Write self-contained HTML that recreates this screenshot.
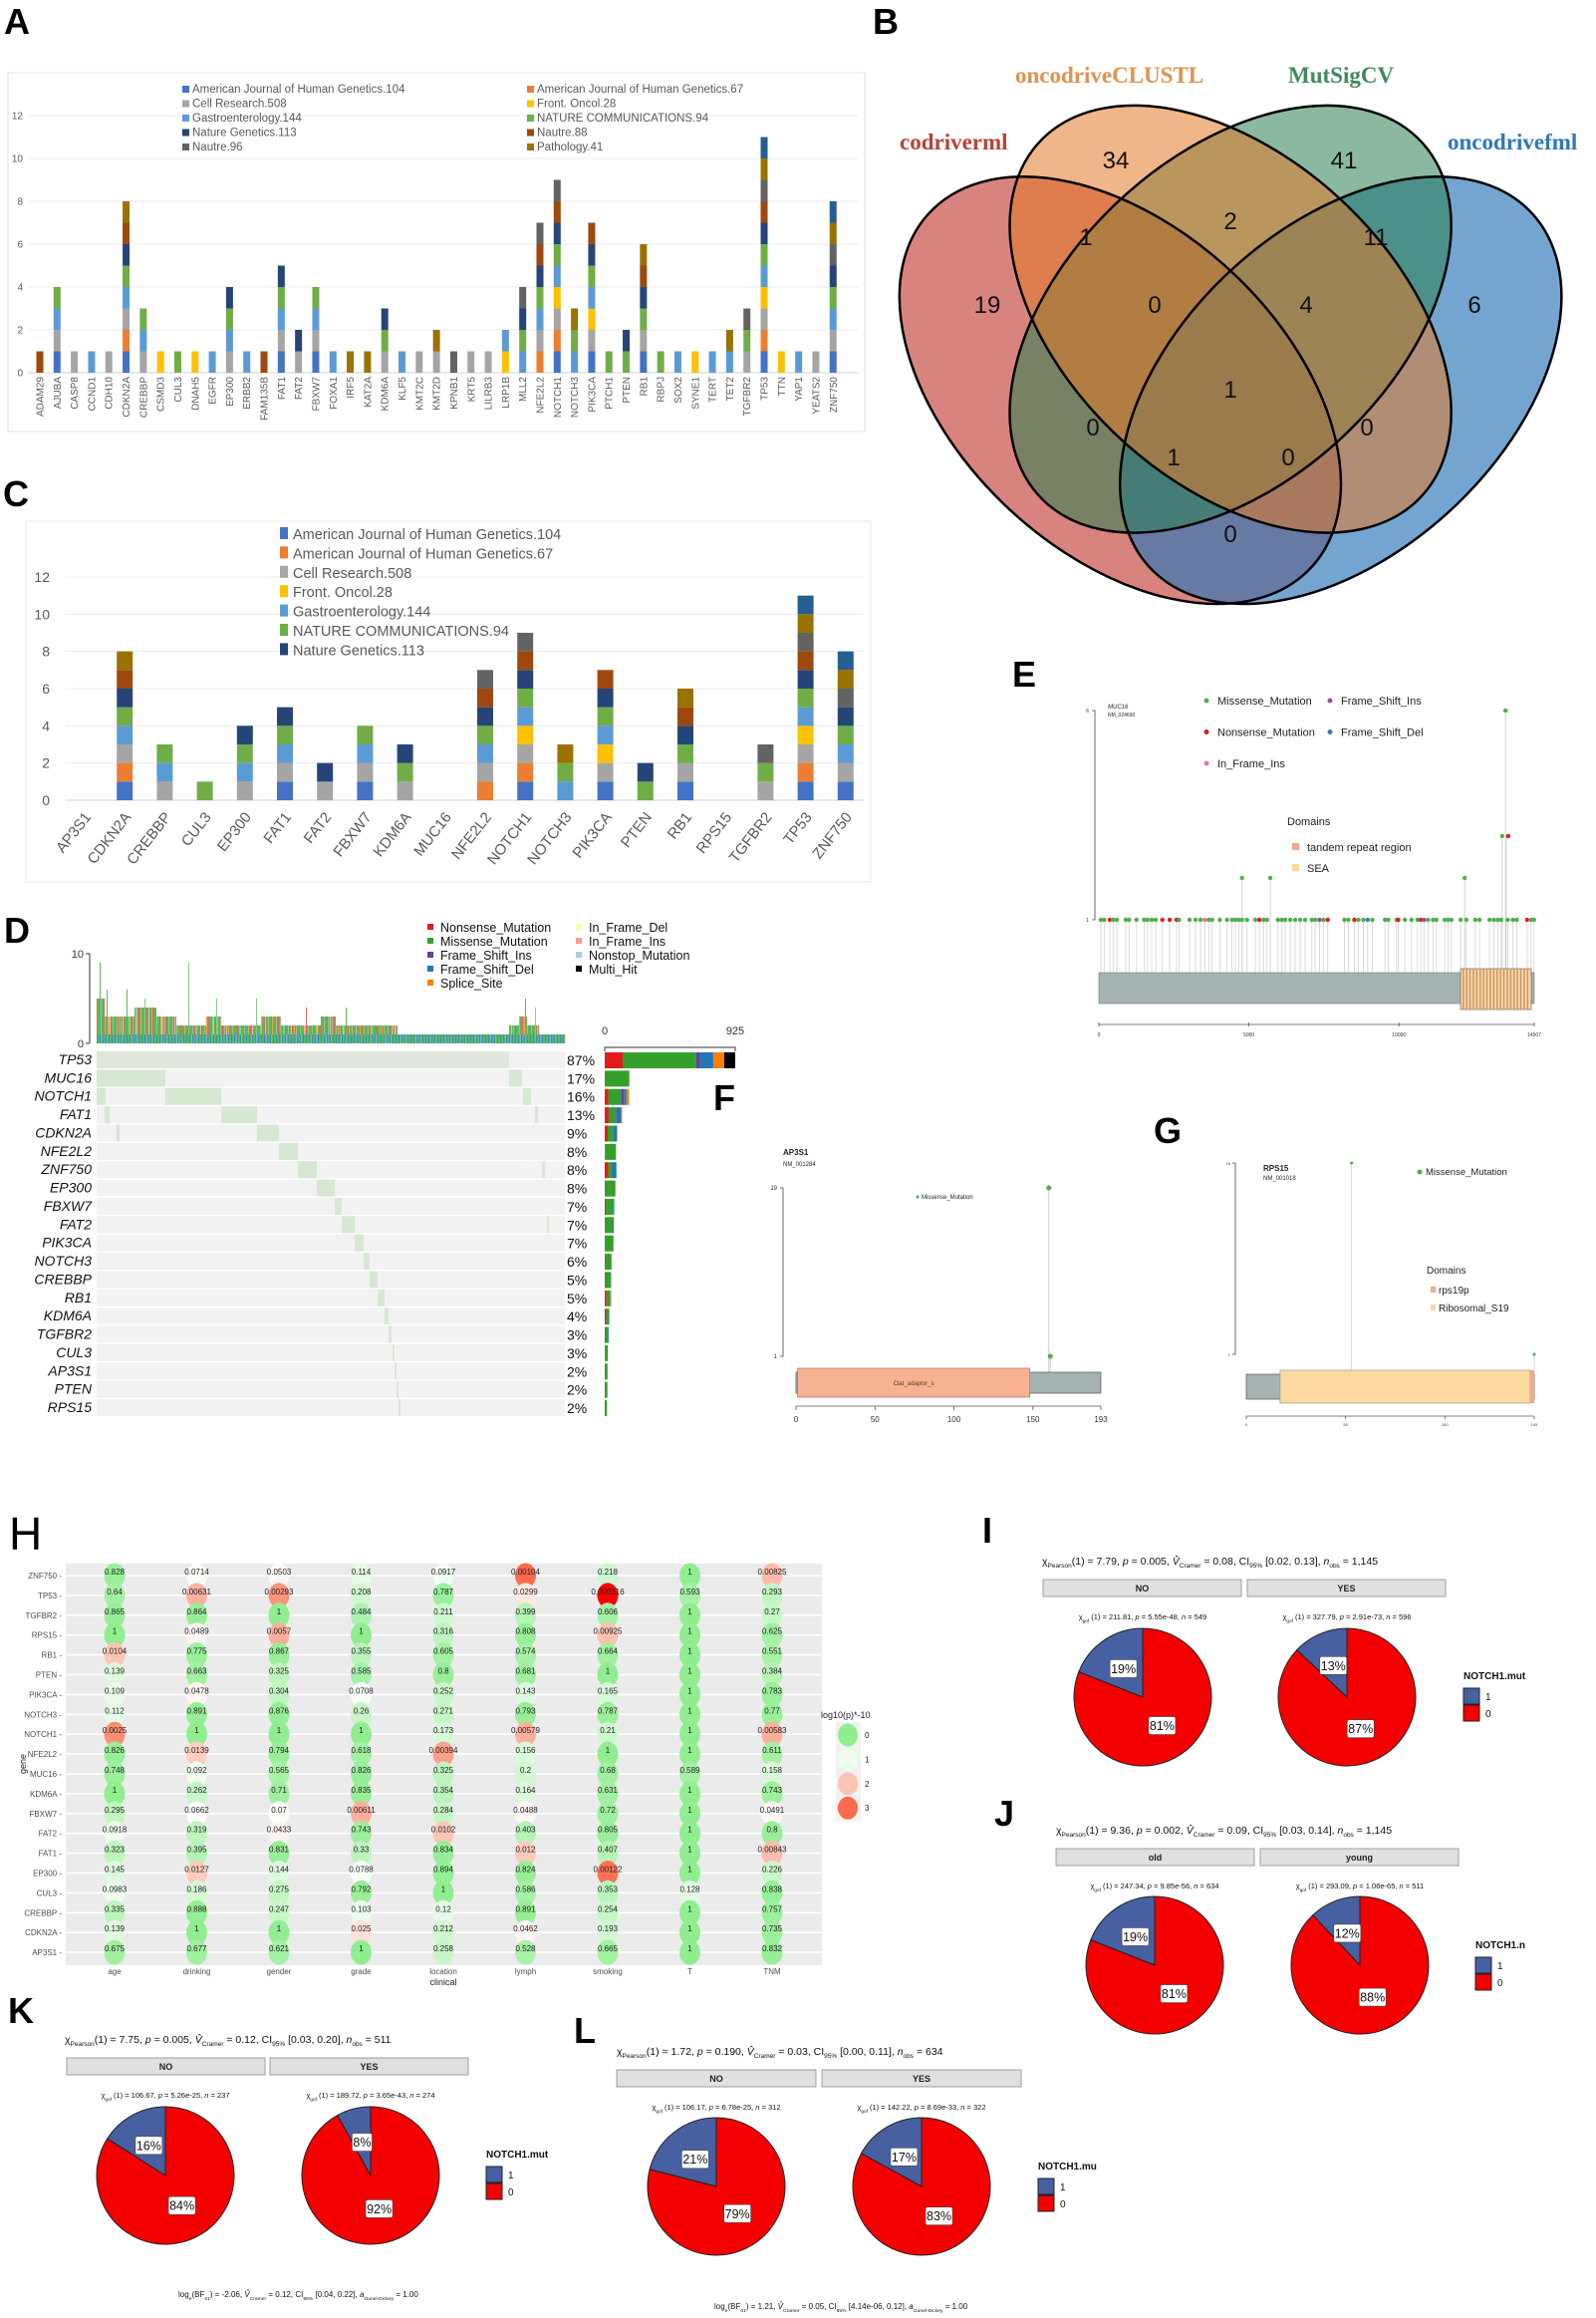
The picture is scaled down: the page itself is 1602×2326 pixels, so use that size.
<!DOCTYPE html>
<html><head><meta charset="utf-8"><title>Figure</title>
<style>
html,body{margin:0;padding:0;background:#fff;}
svg{display:block;font-family:"Liberation Sans",sans-serif;}
.n{font-family:"Liberation Sans Narrow","Liberation Sans",sans-serif;}
.lab{font-weight:bold;font-size:36px;fill:#000;}
</style></head>
<body>
<svg id="fig" xmlns="http://www.w3.org/2000/svg" width="1602" height="2326" viewBox="0 0 1602 2326">
<rect x="0" y="0" width="1602" height="2326" fill="#fff"/>
<text class="lab" x="4" y="34">A</text>
<text class="lab" x="876" y="34">B</text>
<text class="lab" x="3" y="508">C</text>
<text class="lab" x="4" y="946" font-size="32">D</text>
<text class="lab" x="1016" y="689">E</text>
<text class="lab" x="716" y="1114">F</text>
<text class="lab" x="1158" y="1147">G</text>
<text x="9" y="1555" font-size="46">H</text>
<text class="lab" x="986" y="1548" font-size="30">I</text>
<text class="lab" x="998" y="1832" font-size="34">J</text>
<text class="lab" x="8" y="2030" font-size="34">K</text>
<text class="lab" x="576" y="2050" font-size="34">L</text>

<!-- Venn B -->
<g>
<g transform="translate(866.1,727.2) scale(738,-714)">
<ellipse cx="0.35" cy="0.47" rx="0.36" ry="0.225" transform="rotate(135 0.35 0.47)" fill="#c0302a" fill-opacity="0.6" stroke="none"/>
<ellipse cx="0.65" cy="0.47" rx="0.36" ry="0.225" transform="rotate(45 0.65 0.47)" fill="#2a74b8" fill-opacity="0.65" stroke="none"/>
<ellipse cx="0.5" cy="0.57" rx="0.36" ry="0.225" transform="rotate(45 0.5 0.57)" fill="#2a8050" fill-opacity="0.55" stroke="none"/>
<ellipse cx="0.5" cy="0.57" rx="0.36" ry="0.225" transform="rotate(135 0.5 0.57)" fill="#e27a28" fill-opacity="0.55" stroke="none"/>
<g fill="none" stroke="#000" stroke-width="2.5">
<ellipse cx="0.35" cy="0.47" rx="0.36" ry="0.225" transform="rotate(135 0.35 0.47)" vector-effect="non-scaling-stroke"/>
<ellipse cx="0.65" cy="0.47" rx="0.36" ry="0.225" transform="rotate(45 0.65 0.47)" vector-effect="non-scaling-stroke"/>
<ellipse cx="0.5" cy="0.57" rx="0.36" ry="0.225" transform="rotate(45 0.5 0.57)" vector-effect="non-scaling-stroke"/>
<ellipse cx="0.5" cy="0.57" rx="0.36" ry="0.225" transform="rotate(135 0.5 0.57)" vector-effect="non-scaling-stroke"/>
</g>
</g>
<g font-family="Liberation Serif,serif" font-weight="bold" font-size="23">
<text x="903" y="150" fill="#b8413b">codriverml</text>
<text x="1019" y="83" fill="#e0924f">oncodriveCLUSTL</text>
<text x="1293" y="83" fill="#3f8a5c">MutSigCV</text>
<text x="1453" y="150" fill="#2f78b7">oncodrivefml</text>
</g>
<g id="vennNums" font-size="24" text-anchor="middle" fill="#111"></g>
</g>

<!-- E static -->
<g font-size="11" fill="#222">
<text x="1112" y="711" font-size="6" font-style="italic">MUC16</text>
<text x="1112" y="719" font-size="5">NM_024690</text>
<text x="1292" y="828">Domains</text>
<rect x="1297" y="846" width="7" height="7" fill="#f4a987"/>
<text x="1312" y="854">tandem repeat region</text>
<rect x="1297" y="867" width="7" height="7" fill="#fcd9a0"/>
<text x="1312" y="875">SEA</text>
</g>
<!-- F static -->
<g fill="#222">
<text x="786" y="1159" font-size="8" font-weight="bold">AP3S1</text>
<text x="786" y="1170" font-size="6">NM_001284</text>
<circle cx="921" cy="1201" r="1.5" fill="#4daf4a"/>
<text x="925" y="1203" font-size="6" class="n">Missense_Mutation</text>
</g>
<!-- G static -->
<g fill="#222">
<text x="1268" y="1175" font-size="8" font-weight="bold">RPS15</text>
<text x="1268" y="1184" font-size="6">NM_001018</text>
<circle cx="1425" cy="1176" r="2.5" fill="#4daf4a"/>
<text x="1431" y="1179" font-size="9.5" class="n">Missense_Mutation</text>
<text x="1432" y="1278" font-size="10" class="n">Domains</text>
<rect x="1436" y="1291" width="5" height="6" fill="#f4a987"/>
<text x="1444" y="1298" font-size="10" class="n">rps19p</text>
<rect x="1436" y="1309" width="5" height="6" fill="#fcd9a0"/>
<text x="1444" y="1316" font-size="10" class="n">Ribosomal_S19</text>
</g>
<g id="dyn"></g>
</svg>
<script>
const NS='http://www.w3.org/2000/svg';
const root=document.getElementById('dyn');
function mk(tag,attrs,parent){const e=document.createElementNS(NS,tag);for(const k in attrs)e.setAttribute(k,attrs[k]);(parent||root).appendChild(e);return e;}

/* ---------- shared series ---------- */
const seriesNames=['American Journal of Human Genetics.104','American Journal of Human Genetics.67','Cell Research.508','Front. Oncol.28','Gastroenterology.144','NATURE COMMUNICATIONS.94','Nature Genetics.113','Nautre.88','Nautre.96','Pathology.41','Other'];
const seriesColors=['#4472c4','#ed7d31','#a5a5a5','#ffc000','#5b9bd5','#70ad47','#264478','#9e480e','#636363','#997300','#255e91'];

/* ---------- Panel A data ---------- */
const aGenes=['ADAM29','AJUBA','CASP8','CCND1','CDH10','CDKN2A','CREBBP','CSMD3','CUL3','DNAH5','EGFR','EP300','ERBB2','FAM135B','FAT1','FAT2','FBXW7','FOXA1','IRF5','KAT2A','KDM6A','KLF5','KMT2C','KMT2D','KPNB1','KRT5','LILRB3','LRP1B','MLL2','NFE2L2','NOTCH1','NOTCH3','PIK3CA','PTCH1','PTEN','RB1','RBPJ','SOX2','SYNE1','TERT','TET2','TGFBR2','TP53','TTN','YAP1','YEATS2','ZNF750'];
const aSeries=[[7],[0,2,4,5],[2],[4],[2],[0,1,2,4,5,6,7,9],[2,4,5],[3],[5],[3],[4],[2,4,5,6],[4],[7],[0,2,4,5,6],[2,6],[0,2,4,5],[4],[9],[9],[2,5,6],[4],[2],[2,9],[8],[2],[2],[3,4],[4,5,6,8],[1,2,4,5,6,7,8],[0,1,2,3,4,5,6,7,8],[4,5,9],[0,2,3,4,5,6,7],[5],[5,6],[0,2,5,6,7,9],[5],[4],[3],[4],[4,9],[2,5,8],[0,1,2,3,4,5,6,7,8,9,10],[3],[4],[2],[0,2,4,5,6,8,9,10]];
const aTicks=[0,2,4,6,8,10,12];
const xA=i=>40+i*17.31, yA=v=>374-v*21.5;
{
 const g=mk('g',{});
 
 
 const box=mk('rect',{x:8,y:73,width:860,height:360,fill:'none',stroke:'#e3e3e3'},g);
 
 
 aTicks.forEach(t=>{
  const l=mk('line',{x1:28,x2:862,y1:yA(t),y2:yA(t),stroke:t===0?'#d0d0d0':'#ececec'},g);
  
  
  const tx=mk('text',{x:23,y:yA(t)+3.5,'font-size':10,'text-anchor':'end',fill:'#595959',class:'n'},g);
  tx.textContent=t;
  
  
 });
 aGenes.forEach((gn,i)=>{
  aSeries[i].forEach((s,k)=>{
   const r=mk('rect',{x:xA(i)-3.5,y:yA(k+1),width:7,height:yA(k)-yA(k+1),fill:seriesColors[s]},g);
   
   
  });
  const tx=mk('text',{x:0,y:0,'font-size':10,'text-anchor':'end',fill:'#595959',transform:`translate(${xA(i)+3.5},378) rotate(-90)`},g);
  tx.textContent=gn;
  
  
 });
 for(let i=0;i<10;i++){
  const cx=i%2===0?183:529, cy=92+Math.floor(i/2)*14.5;
  const sq=mk('rect',{x:cx,y:cy-6,width:7,height:7,fill:seriesColors[i]},g);
  
  
  const tx=mk('text',{x:cx+10,y:cy+1,'font-size':11.5,fill:'#595959',class:'n'},g);
  tx.textContent=seriesNames[i];
  
  
 }
}

/* ---------- Panel C data ---------- */
const cGenes=['AP3S1','CDKN2A','CREBBP','CUL3','EP300','FAT1','FAT2','FBXW7','KDM6A','MUC16','NFE2L2','NOTCH1','NOTCH3','PIK3CA','PTEN','RB1','RPS15','TGFBR2','TP53','ZNF750'];
const cSeries=[[],[0,1,2,4,5,6,7,9],[2,4,5],[5],[2,4,5,6],[0,2,4,5,6],[2,6],[0,2,4,5],[2,5,6],[],[1,2,4,5,6,7,8],[0,1,2,3,4,5,6,7,8],[4,5,9],[0,2,3,4,5,6,7],[5,6],[0,2,5,6,7,9],[],[2,5,8],[0,1,2,3,4,5,6,7,8,9,10],[0,2,4,5,6,8,9,10]];
const cTicks=[0,2,4,6,8,10,12];
const xC=i=>85+i*40.2, yC=v=>803-v*18.67;
{
 const g=mk('g',{});
 
 
 const box=mk('rect',{x:26,y:523,width:848,height:362,fill:'none',stroke:'#e8e8e8'},g);
 
 
 cTicks.forEach(t=>{
  const l=mk('line',{x1:66,x2:867,y1:yC(t),y2:yC(t),stroke:t===0?'#d0d0d0':'#ececec'},g);
  
  
  const tx=mk('text',{x:50,y:yC(t)+5,'font-size':14,'text-anchor':'end',fill:'#595959',class:'n'},g);
  tx.textContent=t;
  
  
 });
 cGenes.forEach((gn,i)=>{
  cSeries[i].forEach((s,k)=>{
   const r=mk('rect',{x:xC(i)-8,y:yC(k+1),width:16,height:yC(k)-yC(k+1),fill:seriesColors[s]},g);
   
   
  });
  const tx=mk('text',{x:0,y:0,'font-size':15,'text-anchor':'end',fill:'#595959',transform:`translate(${xC(i)+7},820) rotate(-52)`},g);
  tx.textContent=gn;
  
  
 });
 for(let i=0;i<7;i++){
  const cy=537+i*19.4;
  const sq=mk('rect',{x:281,y:cy-8,width:8,height:12,fill:seriesColors[i]},g);
  
  
  const tx=mk('text',{x:294,y:cy+4,'font-size':14.5,fill:'#595959',class:'n'},g);
  tx.textContent=seriesNames[i];
  
  
 }
}

/* ---------- Panel B numbers ---------- */
const vennCounts=['34','41','19','1','2','11','6','0','4','1','0','0','1','0','0'];
const vennPosX=[1120,1349,991,1090,1235,1381,1480,1159,1311,1235,1097,1372,1178,1293,1235];
const vennPosY=[160,160,305,237,221,237,305,305,305,390,428,428,458,458,535];
{
 const g=document.getElementById('vennNums');
 vennCounts.forEach((c,i)=>{
  const t=mk('text',{x:vennPosX[i],y:vennPosY[i]+9},g);
  t.textContent=c;
  
  
 });
}

/* ---------- Panel D data ---------- */
const dGenes=['TP53','MUC16','NOTCH1','FAT1','CDKN2A','NFE2L2','ZNF750','EP300','FBXW7','FAT2','PIK3CA','NOTCH3','CREBBP','RB1','KDM6A','TGFBR2','CUL3','AP3S1','PTEN','RPS15'];
const dPct=['87%','17%','16%','13%','9%','8%','8%','8%','7%','7%','7%','6%','5%','5%','4%','3%','3%','2%','2%','2%'];
const dBlockStart=[0,0,69,125,161,183,202,221,239,246,259,268,274,282,289,293,297,299,301,303];
const dBlockLen=[414,69,56,36,22,19,19,18,7,13,9,6,8,7,4,3,2,2,2,2];
const dExtraGene=[1,2,2,3,3,4,6,9];
const dExtraStart=[414,0,428,8,440,20,447,452];
const dExtraLen=[13,9,8,5,3,3,3,2];
const dTypes=['Nonsense_Mutation','Missense_Mutation','Frame_Shift_Ins','Frame_Shift_Del','Splice_Site','In_Frame_Del','In_Frame_Ins','Nonstop_Mutation','Multi_Hit'];
const dTypeColors=['#e31a1c','#33a02c','#6a3d9a','#1f78b4','#ff7f00','#ffff99','#fb9a99','#a6cee3','#000000'];
const dNonsense=[127,3,25,28,21,2,25,3,8,5,0,6,6,12,10,4,2,0,4,0];
const dMissense=[522,170,90,50,40,78,28,70,57,52,62,40,38,26,20,18,20,20,15,16];
const dFsIns=[28,0,21,5,0,0,0,0,0,0,0,0,0,0,0,0,0,0,0,0];
const dFsDel=[92,0,18,35,25,0,30,0,3,8,0,2,2,3,3,6,0,0,0,0];
const dSplice=[78,2,18,5,4,0,0,5,0,0,0,2,0,5,0,0,0,0,0,0];
const dMulti=[78,0,0,0,0,0,0,0,0,0,0,0,0,0,0,0,0,0,0,0];
const tmbRuns=[[8,5],[30,3],[22,4],[20,3],[30,2],[15,3],[40,2],[20,3],[40,2],[15,3],[62,2],[112,1],[10,2],[8,3],[12,2],[26,1]];
const tmbSpikeIdx=[3,10,30,48,92,120,160,210,250,430,440];
const tmbSpikeVal=[9,6,6,5,9,5,5,4,4,5,4];
const tmbTicks=[0,10];
const rightTicks=[0,925];
const xS=s=>97+s, rowTop=i=>1055+i*18.37, yT=v=>1047-v*9, xR=c=>607+c*131/925;
{
 const g=mk('g',{});
 
 
 dTypes.forEach((t,i)=>{
  const col=i<5?0:1, row=i<5?i:i-5;
  const x=col?578:429, y=934+row*14;
  const sq=mk('rect',{x:x,y:y-7,width:6,height:6,fill:dTypeColors[i]},g);
  
  
  const tx=mk('text',{x:x+13,y:y+1,'font-size':12.5,fill:'#111'},g);
  tx.textContent=t;
  
  
 });
 const ax=mk('line',{x1:90,x2:90,y1:yT(10),y2:yT(0),stroke:'#333'},g);
 
 
 tmbTicks.forEach(t=>{
  const tk=mk('line',{x1:86,x2:90,y1:yT(t),y2:yT(t),stroke:'#333'},g);
  
  
  const tx=mk('text',{x:84,y:yT(t)+4,'font-size':11,'text-anchor':'end',fill:'#333',class:'n'},g);
  tx.textContent=t;
  
  
 });
 const heights=[];
 tmbRuns.forEach(r=>{for(let k=0;k<r[0];k++)heights.push(r[1]);});
 tmbSpikeIdx.forEach((s,i)=>{heights[s]=tmbSpikeVal[i];});
 heights.forEach((h,s)=>{
  for(let u=0;u<h;u++){
   let c='#5cb85c';
   if(u===0) c=(s%3===0)?'#3b8fc4':(s%5===0?'#7fb0d8':'#5cb85c');
   else if(s%7===0) c='#e8615f'; else if(s%11===0) c='#f5a04a'; else if(s%13===0) c='#f3b2b0'; else if(s%4===0) c='#8cc98a';
   const r=mk('rect',{x:xS(s),y:yT(u+1),width:1,height:9,fill:c},g);
   
   
  }
 });
 dGenes.forEach((gn,i)=>{
  const y=rowTop(i);
  const bg=mk('rect',{x:97,y:y,width:470,height:17,fill:'#f2f2f2'},g);
  
  
  const bl=mk('rect',{x:xS(dBlockStart[i]),y:y,width:dBlockLen[i],height:17,fill:i===0?'#e1e6dc':'#d6e8d2'},g);
  
  
  const lab=mk('text',{x:92,y:y+13,'font-size':14,'font-style':'italic','text-anchor':'end',fill:'#111'},g);
  lab.textContent=gn;
  
  
  const pc=mk('text',{x:569,y:y+14,'font-size':14,fill:'#111'},g);
  pc.textContent=dPct[i];
  
  
  const parts=[dNonsense[i],dMissense[i],dFsIns[i],dFsDel[i],dSplice[i],0,0,0,dMulti[i]];
  let acc=0;
  parts.forEach((v,k)=>{
   if(!v) return;
   const r=mk('rect',{x:xR(acc),y:y+1,width:xR(acc+v)-xR(acc),height:16,fill:dTypeColors[k]},g);
   
   
   acc+=v;
  });
 });
 dExtraGene.forEach((gi,k)=>{
  const r=mk('rect',{x:xS(dExtraStart[k]),y:rowTop(gi),width:dExtraLen[k],height:17,fill:'#d6e8d2'},g);
  
  
 });
 const rax=mk('path',{d:`M${xR(0)} 1055 V1051 H${xR(925)} V1055`,fill:'none',stroke:'#333'},g);
 
 
 rightTicks.forEach(t=>{
  const tx=mk('text',{x:xR(t),y:1038,'font-size':11,'text-anchor':'middle',fill:'#333',class:'n'},g);
  tx.textContent=t;
  
  
 });
}

/* ---------- Panel E data ---------- */
const ePos=[66,177,365,476,598,897,1007,1251,1506,1616,1760,1893,2114,2358,2590,2668,3022,3221,3387,3531,3664,3775,4029,4273,4439,4550,4660,4771,4937,5214,5347,5491,5602,5967,6100,6210,6376,6542,6708,6874,7096,7206,7350,7483,7627,8181,8314,8513,8646,8812,8956,9111,9532,9642,9919,9974,10196,10417,10617,10727,10838,10970,11136,11247,11524,11634,11745,12055,12243,12542,12686,13018,13162,13295,13406,13627,13793,13926,14269,14402,14500];
const eType=['M','M','N','M','M','M','M','M','M','M','M','M','N','N','N','M','M','M','M','I','M','M','M','M','M','M','M','M','M','M','N','M','M','M','M','M','M','M','M','M','M','M','P','M','N','M','M','N','M','M','D','M','M','M','M','N','M','M','M','N','P','M','M','M','M','M','M','M','M','M','M','M','M','M','M','M','M','M','N','M','M'];
const eTallPos=[4771,5712,12189,13439,13572,13550];
const eTallCount=[2,2,2,3,3,6];
const eTallType=['M','M','M','M','N','M'];
const eTicks=[0,5000,10000,14507];
const eLegend=['Missense_Mutation','Frame_Shift_Ins','Nonsense_Mutation','Frame_Shift_Del','In_Frame_Ins'];
const eLegendType=['M','P','N','D','I'];
const mutColor={M:'#4daf4a',N:'#e41a1c',P:'#984ea3',D:'#377eb8',I:'#e7798a'};
const xE=p=>1103+p*437/14507, yE=c=>923-(c-1)*42;
{
 const g=mk('g',{});
 
 
 const ax=mk('path',{d:`M1096 ${yE(6)} H1099 V${yE(1)} H1096`,fill:'none',stroke:'#444','stroke-width':0.8},g);
 
 
 [[6,yE(6)],[1,yE(1)]].forEach(a=>{
  const t=mk('text',{x:1093,y:a[1]+2,'font-size':5,'text-anchor':'end',fill:'#333'},g);
  t.textContent=a[0];
  
  
 });
 ePos.forEach(p=>{
  const l=mk('line',{x1:xE(p),x2:xE(p),y1:yE(1),y2:976,stroke:'#d4d4d4','stroke-width':0.8},g);
  
  
 });
 eTallPos.forEach((p,i)=>{
  const l=mk('line',{x1:xE(p),x2:xE(p),y1:yE(eTallCount[i]),y2:976,stroke:'#cfcfcf','stroke-width':0.9},g);
  
  
 });
 const prot=mk('rect',{x:xE(0),y:976,width:xE(14507)-xE(0),height:31,fill:'#a5b4b2',stroke:'#6f7a79','stroke-width':0.6},g);
 
 
 const dom=mk('rect',{x:1466,y:972,width:71,height:41,fill:'#fcd9a0',stroke:'#555','stroke-width':0.6},g);
 
 
 for(let x=1468;x<1536;x+=3.4){
  const s=mk('rect',{x:x,y:972,width:1.5,height:41,fill:'#c99572'},g);
  
  
 }
 ePos.forEach((p,i)=>{
  const c=mk('circle',{cx:xE(p),cy:yE(1),r:2.2,fill:mutColor[eType[i]]},g);
  
  
 });
 eTallPos.forEach((p,i)=>{
  const c=mk('circle',{cx:xE(p)+(eTallType[i]==='N'?2:0),cy:yE(eTallCount[i]),r:2.2,fill:mutColor[eTallType[i]]},g);
  
  
 });
 const xa=mk('line',{x1:xE(0),x2:xE(14507),y1:1028,y2:1028,stroke:'#555','stroke-width':0.8},g);
 
 
 eTicks.forEach(t=>{
  const tk=mk('line',{x1:xE(t),x2:xE(t),y1:1026,y2:1030,stroke:'#555','stroke-width':0.8},g);
  
  
  const tx=mk('text',{x:xE(t),y:1040,'font-size':5,'text-anchor':'middle',fill:'#333'},g);
  tx.textContent=t;
  
  
 });
 eLegend.forEach((n,i)=>{
  const x=i%2===0?1211:1335, y=703+Math.floor(i/2)*31.5;
  const c=mk('circle',{cx:x,cy:y,r:2.5,fill:mutColor[eLegendType[i]]},g);
  
  
  const t=mk('text',{x:x+11,y:y+4,'font-size':11,fill:'#222'},g);
  t.textContent=n;
  
  
 });
}

/* ---------- Panel F / G data ---------- */
const fTicks=[0,50,100,150,193];
const fMutPos=[160,161];
const fMutCount=[19,1];
const xF=p=>799+p*(1105-799)/193, yF=c=>1361-(c-1)*(1361-1192)/18;
const gTicks=[0,50,100,145];
const gMutPos=[53,145];
const gMutCount=[16,1];
const xG=p=>1251+p*(1540-1251)/145, yG=c=>1359-(c-1)*(1359-1167)/15;
{
 const g=mk('g',{});
 
 
 const ax=mk('path',{d:`M783 ${yF(19)} H786 V${yF(1)} H783`,fill:'none',stroke:'#444','stroke-width':0.8},g);
 
 
 [19,1].forEach(v=>{
  const t=mk('text',{x:780,y:yF(v)+2,'font-size':6,'text-anchor':'end',fill:'#333'},g);
  t.textContent=v;
  
  
 });
 fMutPos.forEach((p,i)=>{
  const l=mk('line',{x1:xF(p),x2:xF(p),y1:yF(fMutCount[i]),y2:1377,stroke:'#cfcfcf','stroke-width':1},g);
  
  
 });
 const prot=mk('rect',{x:xF(0),y:1377,width:xF(193)-xF(0),height:21,fill:'#a5b4b2',stroke:'#555','stroke-width':0.7},g);
 
 
 const dom=mk('rect',{x:xF(1),y:1373,width:xF(148)-xF(1),height:29,fill:'#f7b193',stroke:'#b0705a','stroke-width':0.7},g);
 
 
 const dl=mk('text',{x:(xF(1)+xF(148))/2,y:1390,'font-size':6,'text-anchor':'middle',fill:'#5a3a2a'},g);
 dl.textContent='Clat_adaptor_s';
 
 
 fMutPos.forEach((p,i)=>{
  const c=mk('circle',{cx:xF(p),cy:yF(fMutCount[i]),r:2.5,fill:'#4daf4a'},g);
  
  
 });
 const xa=mk('line',{x1:xF(0),x2:xF(193),y1:1411,y2:1411,stroke:'#555','stroke-width':0.8},g);
 
 
 fTicks.forEach(t=>{
  const tk=mk('line',{x1:xF(t),x2:xF(t),y1:1411,y2:1415,stroke:'#555','stroke-width':0.8},g);
  
  
  const tx=mk('text',{x:xF(t),y:1427,'font-size':8,'text-anchor':'middle',fill:'#333',class:'n'},g);
  tx.textContent=t;
  
  
 });

 const h=mk('g',{});
 
 
 const ay=mk('path',{d:`M1237 ${yG(16)} H1240 V${yG(1)} H1237`,fill:'none',stroke:'#444','stroke-width':0.8},h);
 
 
 [16,1].forEach(v=>{
  const t=mk('text',{x:1235,y:yG(v)+2,'font-size':4,'text-anchor':'end',fill:'#333'},h);
  t.textContent=v;
  
  
 });
 gMutPos.forEach((p,i)=>{
  const l=mk('line',{x1:xG(p),x2:xG(p),y1:yG(gMutCount[i]),y2:1375,stroke:'#d0d0d0','stroke-width':0.8},h);
  
  
 });
 const pr=mk('rect',{x:xG(0),y:1379,width:xG(145)-xG(0),height:25,fill:'#a5b4b2',stroke:'#555','stroke-width':0.7},h);
 
 
 const d2=mk('rect',{x:xG(17),y:1375,width:xG(143)-xG(17),height:33,fill:'#fcd9a0',stroke:'#999','stroke-width':0.7},h);
 
 
 const d3=mk('rect',{x:xG(143),y:1375,width:xG(145)-xG(143),height:33,fill:'#f4a987'},h);
 
 
 gMutPos.forEach((p,i)=>{
  const c=mk('circle',{cx:xG(p),cy:yG(gMutCount[i]),r:1.5,fill:'#4daf4a'},h);
  
  
 });
 const gx=mk('line',{x1:xG(0),x2:xG(145),y1:1421,y2:1421,stroke:'#555','stroke-width':0.8},h);
 
 
 gTicks.forEach(t=>{
  const tk=mk('line',{x1:xG(t),x2:xG(t),y1:1421,y2:1424,stroke:'#555','stroke-width':0.8},h);
  
  
  const tx=mk('text',{x:xG(t),y:1431,'font-size':4,'text-anchor':'middle',fill:'#333'},h);
  tx.textContent=t;
  
  
 });
}

/* ---------- Panel H data ---------- */
const hGenes=['ZNF750','TP53','TGFBR2','RPS15','RB1','PTEN','PIK3CA','NOTCH3','NOTCH1','NFE2L2','MUC16','KDM6A','FBXW7','FAT2','FAT1','EP300','CUL3','CREBBP','CDKN2A','AP3S1'];
const hClinical=['age','drinking','gender','grade','location','lymph','smoking','T','TNM'];
const hP=[
[0.828,0.0714,0.0503,0.114,0.0917,0.00104,0.218,1,0.00825],
[0.64,0.00631,0.00293,0.208,0.787,0.0299,0.000316,0.593,0.293],
[0.865,0.864,1,0.484,0.211,0.399,0.606,1,0.27],
[1,0.0489,0.0057,1,0.316,0.808,0.00925,1,0.625],
[0.0104,0.775,0.867,0.355,0.605,0.574,0.664,1,0.551],
[0.139,0.663,0.325,0.585,0.8,0.681,1,1,0.384],
[0.109,0.0478,0.304,0.0708,0.252,0.143,0.165,1,0.783],
[0.112,0.891,0.876,0.26,0.271,0.793,0.787,1,0.77],
[0.0025,1,1,1,0.173,0.00579,0.21,1,0.00583],
[0.826,0.0139,0.794,0.618,0.00394,0.156,1,1,0.611],
[0.748,0.092,0.565,0.826,0.325,0.2,0.68,0.589,0.158],
[1,0.262,0.71,0.835,0.354,0.164,0.631,1,0.743],
[0.295,0.0662,0.07,0.00611,0.284,0.0488,0.72,1,0.0491],
[0.0918,0.319,0.0433,0.743,0.0102,0.403,0.805,1,0.8],
[0.323,0.395,0.831,0.33,0.834,0.012,0.407,1,0.00843],
[0.145,0.0127,0.144,0.0788,0.894,0.824,0.00122,1,0.226],
[0.0983,0.186,0.275,0.792,1,0.586,0.353,0.128,0.838],
[0.335,0.888,0.247,0.103,0.12,0.891,0.254,1,0.757],
[0.139,1,1,0.025,0.212,0.0462,0.193,1,0.735],
[0.675,0.677,0.621,1,0.258,0.528,0.665,1,0.832]];
const hLegendVals=[0,1,2,3];
const xH=j=>115+j*82.5, yH=i=>1581+i*19.9;
function hColor(v){
 const stops=[[0,[144,238,144]],[1.2,[255,255,255]],[2,[253,196,180]],[3,[251,106,74]],[3.5,[255,0,0]]];
 v=Math.max(0,Math.min(3.5,v));
 for(let k=0;k<stops.length-1;k++){
  const a=stops[k],b=stops[k+1];
  if(v<=b[0]){const t=(v-a[0])/(b[0]-a[0]);const c=a[1].map((x,q)=>Math.round(x+(b[1][q]-x)*t));return `rgb(${c})`;}
 }
 return 'rgb(255,0,0)';
}
{
 const g=mk('g',{});
 
 
 const bg=mk('rect',{x:66,y:1569,width:759,height:403,fill:'#ebebeb'},g);
 
 
 hGenes.forEach((gn,i)=>{
  const l=mk('line',{x1:66,x2:825,y1:yH(i),y2:yH(i),stroke:'#fff','stroke-width':1.6},g);
  
  
  const t=mk('text',{x:62,y:yH(i)+3,'font-size':8,'text-anchor':'end',fill:'#4d4d4d',class:'n'},g);
  t.textContent=gn+' -';
  
  
 });
 hClinical.forEach((c,j)=>{
  const l=mk('line',{x1:xH(j),x2:xH(j),y1:1569,y2:1972,stroke:'#fff','stroke-width':1.6},g);
  
  
  const t=mk('text',{x:xH(j),y:1981,'font-size':8,'text-anchor':'middle',fill:'#4d4d4d',class:'n'},g);
  t.textContent=c;
  
  
 });
 hP.forEach((row,i)=>row.forEach((p,j)=>{
  const e=mk('ellipse',{cx:xH(j),cy:yH(i),rx:10.5,ry:12.5,fill:hColor(-Math.log10(p))},g);
  
  
  const t=mk('text',{x:xH(j),y:yH(i)-1,'font-size':8,'text-anchor':'middle',fill:'#222',class:'n'},g);
  t.textContent=String(p);
  
  
 }));
 const ct=mk('text',{x:445,y:1992,'font-size':9,'text-anchor':'middle',fill:'#222',class:'n'},g);
 ct.textContent='clinical';
 
 
 const gt=mk('text',{x:0,y:0,'font-size':9,'text-anchor':'middle',fill:'#222',transform:'translate(26,1770) rotate(-90)'},g);
 gt.textContent='gene';
 
 
 const lt=mk('text',{x:824,y:1724,'font-size':9,fill:'#222',class:'n'},g);
 lt.textContent='log10(p)*-10';
 
 
 const lb=mk('rect',{x:839,y:1728,width:25,height:99,fill:'#f2f2f2'},g);
 
 
 hLegendVals.forEach((v,k)=>{
  const e=mk('ellipse',{cx:851,cy:1741+k*24.4,rx:10,ry:11.5,fill:hColor(v)},g);
  
  
  const t=mk('text',{x:868,y:1744+k*24.4,'font-size':8,fill:'#222',class:'n'},g);
  t.textContent=v;
  
  
 });
}

/* ---------- Pie panels I J K L data ---------- */
const pieGroups=[['NO','YES'],['old','young'],['NO','YES'],['NO','YES']];
const pieMutPct=[[19,13],[19,12],[16,8],[21,17]];
const pieCx=[[1147,1352],[1159,1365],[166,372],[719,925]];
const pieCy=[1703,1972,2183,2194];
const pieStripY=[1585,1855,2065,2077];
const pieStripX=[[1047,1252],[1060,1265],[67,271],[619,825]];
const pieStripW=[199,199,199,200];
const pieSubY=[1622,1892,2102,2114];
const pieSub=[
 [['211.81','5.55e-48','549'],['327.79','2.91e-73','596']],
 [['247.34','9.85e-56','634'],['293.09','1.06e-65','511']],
 [['106.67','5.26e-25','237'],['189.72','3.65e-43','274']],
 [['106.17','6.78e-25','312'],['142.22','8.69e-33','322']]];
const pieTitle=[['7.79','0.005','0.08','[0.02, 0.13]','1,145'],['9.36','0.002','0.09','[0.03, 0.14]','1,145'],['7.75','0.005','0.12','[0.03, 0.20]','511'],['1.72','0.190','0.03','[0.00, 0.11]','634']];
const pieTitleXY=[[1046,1570],[1060,1840],[65,2050],[619,2062]];
const pieLegendTitle=['NOTCH1.mut','NOTCH1.n','NOTCH1.mut','NOTCH1.mu'];
const pieLegendXY=[[1469,1685],[1481,1955],[488,2165],[1042,2177]];
const pieCaption=[null,null,['-2.06','0.12','[0.04, 0.22]',179,2305],['1.21','0.05','[4.14e-06, 0.12]',717,2317]];
const PR=69;
function rich(parent,x,y,size,parts,name){
 const t=mk('text',{x:x,y:y,'font-size':size,fill:'#111'},parent);
 
 
 let off=0;
 parts.forEach(p=>{
  const s=mk('tspan',{},t);
  let target=0;
  if(p[1]==='sub'){target=3;s.setAttribute('font-size',size*0.62);}
  else if(p[1]==='sup'){target=-5;s.setAttribute('font-size',size*0.55);}
  else if(p[1]==='it'){s.setAttribute('font-style','italic');}
  s.setAttribute('dy',target-off);off=target;
  s.textContent=p[0];
 });
 return t;
}
for(let q=0;q<4;q++){
 const g=mk('g',{});
 
 
 const T=pieTitle[q];
 rich(g,pieTitleXY[q][0],pieTitleXY[q][1],10.5,[['χ','n'],['Pearson','sub'],['(1) = '+T[0]+', ','n'],['p','it'],[' = '+T[1]+', ','n'],['V̂','it'],['Cramer','sub'],[' = '+T[2]+', CI','n'],['95%','sub'],[' '+T[3]+', ','n'],['n','it'],['obs','sub'],[' = '+T[4],'n']],'pie-stat-title');
 for(let k=0;k<2;k++){
  const sr=mk('rect',{x:pieStripX[q][k],y:pieStripY[q],width:pieStripW[q],height:17,fill:'#e0e0e0',stroke:'#8a8a8a','stroke-width':0.8},g);
  
  
  const st=mk('text',{x:pieStripX[q][k]+pieStripW[q]/2,y:pieStripY[q]+12,'font-size':9,'font-weight':'bold','text-anchor':'middle',fill:'#222'},g);
  st.textContent=pieGroups[q][k];
  
  
  const S=pieSub[q][k];
  const sub=rich(g,pieCx[q][k],pieSubY[q]+3,7.5,[['χ','n'],['gof','sub'],[' (1) = '+S[0]+', ','n'],['p','it'],[' = '+S[1]+', ','n'],['n','it'],[' = '+S[2],'n']],'pie-subtitle');
  sub.setAttribute('text-anchor','middle');
  const cx=pieCx[q][k], cy=pieCy[q], f=pieMutPct[q][k]/100;
  const a1=2*Math.PI*f;
  const pt=(a,r)=>[cx-r*Math.sin(a),cy-r*Math.cos(a)];
  const e1=pt(a1,PR);
  const blue=mk('path',{d:`M${cx} ${cy} L${cx} ${cy-PR} A${PR} ${PR} 0 ${f>0.5?1:0} 0 ${e1[0]} ${e1[1]} Z`,fill:'#4760a2',stroke:'#222','stroke-width':1},g);
  
  
  const red=mk('path',{d:`M${cx} ${cy} L${e1[0]} ${e1[1]} A${PR} ${PR} 0 ${f<0.5?1:0} 0 ${cx} ${cy-PR} Z`,fill:'#f50000',stroke:'#222','stroke-width':1},g);
  
  
  [[f/2,pieMutPct[q][k]],[f+(1-f)/2,100-pieMutPct[q][k]]].forEach(L=>{
   const p=pt(2*Math.PI*L[0],PR*0.5);
   const txt=L[1]+'%', w=txt.length*7+6;
   const r=mk('rect',{x:p[0]-w/2,y:p[1]-9,width:w,height:18,rx:2,fill:'#fff',stroke:'#444','stroke-width':0.6},g);
   
   
   const t=mk('text',{x:p[0],y:p[1]+4.5,'font-size':12.5,'text-anchor':'middle',fill:'#111'},g);
   t.textContent=txt;
   
   
  });
 }
 const lx=pieLegendXY[q][0], ly=pieLegendXY[q][1];
 const lt=mk('text',{x:lx,y:ly,'font-size':10,'font-weight':'bold',fill:'#111',class:'n'},g);
 lt.textContent=pieLegendTitle[q];
 
 
 [['1','#4760a2'],['0','#f50000']].forEach((it,k)=>{
  const r=mk('rect',{x:lx,y:ly+9+k*17,width:16,height:16,fill:it[1],stroke:'#222','stroke-width':1},g);
  
  
  const t=mk('text',{x:lx+22,y:ly+21+k*17,'font-size':10,fill:'#111'},g);
  t.textContent=it[0];
  
  
 });
 const C=pieCaption[q];
 if(C){
  rich(g,C[3],C[4],8,[['log','n'],['e','sub'],['(BF','n'],['01','sub'],[') = '+C[0]+', ','n'],['V̂','it'],['Cramer','sub'],[' = '+C[1]+', CI','n'],['95%','sub'],[' '+C[2]+', ','n'],['a','it'],['Gunel-Dickey','sub'],[' = 1.00','n']],'pie-bayes-caption');
 }
}
</script>
</body></html>
